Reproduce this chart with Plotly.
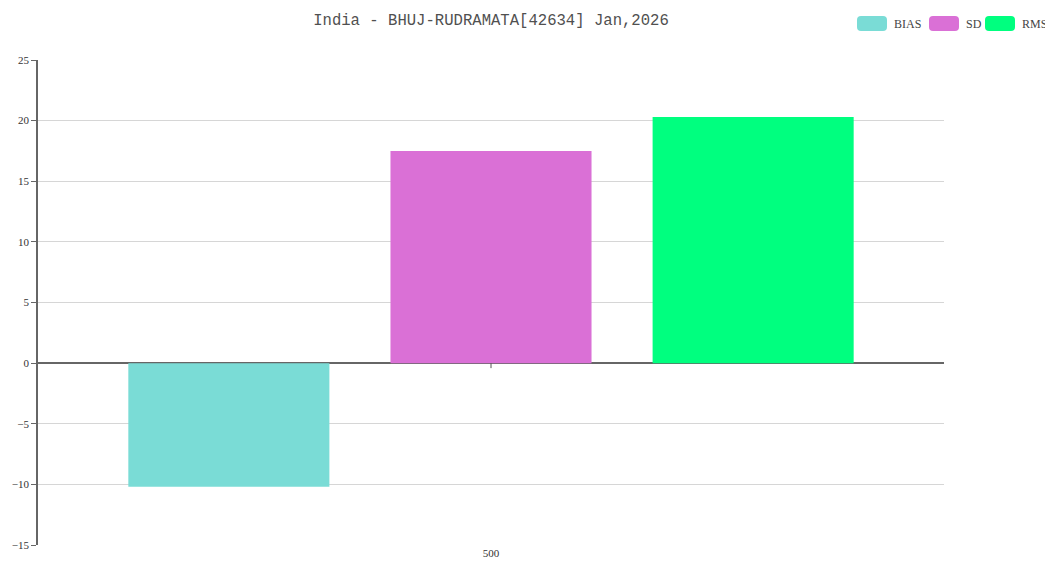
import plotly.graph_objects as go

categories = ["500"]
series_names = ["BIAS", "SD", "RMS"]
series_values = [[-10.2], [17.5], [20.3]]
series_colors = ["#7adcd6", "#da70d6", "#00ff7f"]
title_text = "India - BHUJ-RUDRAMATA[42634] Jan,2026"
y_ticks = [-15, -10, -5, 0, 5, 10, 15, 20, 25]

fig = go.Figure()
for name, vals, col in zip(series_names, series_values, series_colors):
    fig.add_trace(go.Bar(x=categories, y=vals, name=name, marker=dict(color=col, line=dict(width=0)),
                         showlegend=False))

# custom legend with rounded swatches (paper coordinates; page pixel helpers)
W, H = 906.0, 485.0
def px(xpix):
    return (xpix - 38) / W
def py(ypix):
    return (545 - ypix) / H

legend_x = [857, 929, 985]
shapes = []
annotations = []
for name, col, lx in zip(series_names, series_colors, legend_x):
    x0, x1 = px(lx), px(lx + 30)
    y0, y1 = py(31), py(16)
    rx, ry = 4 / W, 4 / H
    path = (f"M {x0+rx},{y0} L {x1-rx},{y0} Q {x1},{y0} {x1},{y0+ry} L {x1},{y1-ry} "
            f"Q {x1},{y1} {x1-rx},{y1} L {x0+rx},{y1} Q {x0},{y1} {x0},{y1-ry} "
            f"L {x0},{y0+ry} Q {x0},{y0} {x0+rx},{y0} Z")
    shapes.append(dict(type="path", xref="paper", yref="paper", path=path,
                       fillcolor=col, line=dict(width=0)))
    annotations.append(dict(x=px(lx + 35), y=py(23.5), xref="paper", yref="paper",
                            text=name, showarrow=False, xanchor="left", yanchor="middle",
                            font=dict(family="Liberation Serif", size=12, color="#444")))

# x-axis tick mark at zero line (centre of the category)
shapes.append(dict(type="line", xref="paper", yref="y", x0=0.5, x1=0.5,
                   ysizemode="pixel", yanchor=0, y0=0, y1=-5,
                   line=dict(color="#555", width=1)))

fig.update_layout(
    width=1045, height=560,
    margin=dict(l=30, r=109, t=52, b=23, autoexpand=False),
    paper_bgcolor="white", plot_bgcolor="white",
    title=dict(text=title_text, x=0.5, xref="paper", y=0.980, yref="container",
               xanchor="center", yanchor="middle",
               font=dict(family="Liberation Mono", size=15.6, color="#505050")),
    barmode="group", bargap=0.132, bargroupgap=0.233,
    shapes=shapes, annotations=annotations,
    showlegend=False,
)
fig.update_xaxes(type="category", range=[-0.5, 0.5], showgrid=False, showline=False, ticks="",
                 tickfont=dict(family="Liberation Serif", size=11, color="#333"))
fig.update_yaxes(range=[-15, 25], tickvals=y_ticks, showgrid=True, gridcolor="#d6d6d6",
                 gridwidth=1, zeroline=True, zerolinecolor="#666", zerolinewidth=1.5,
                 showline=True, linecolor="#666", linewidth=1.5, ticks="outside",
                 ticklen=5, tickcolor="#666",
                 tickfont=dict(family="Liberation Serif", size=11, color="#333"))

fig.write_html("out.html")
